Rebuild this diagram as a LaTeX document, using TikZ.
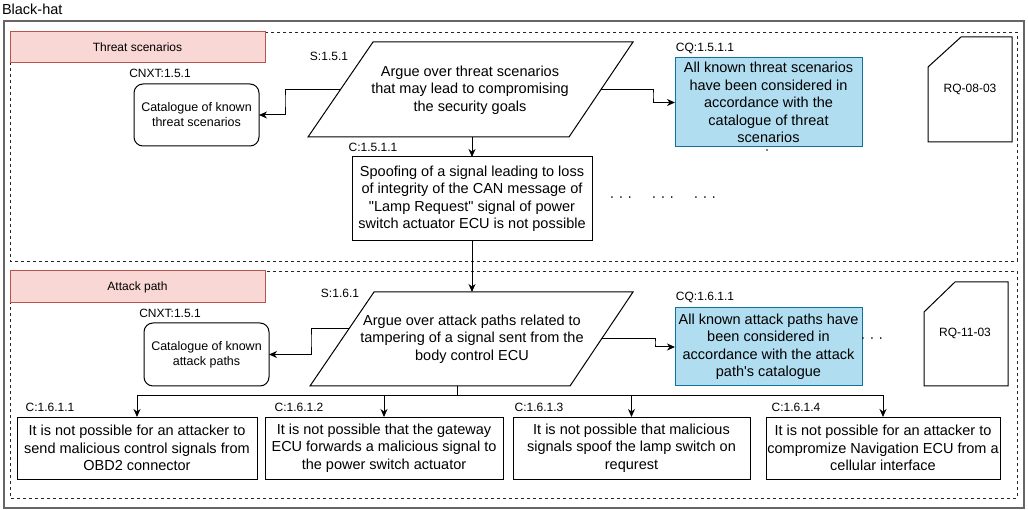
\documentclass[tikz,border=0pt]{standalone}
\usepackage{fontspec}
\setmainfont{Liberation Sans}[Ligatures=TeXOff]
\usetikzlibrary{arrows.meta,calc}
\definecolor{hdrfill}{HTML}{F8D7D5}
\definecolor{hdrdraw}{HTML}{B85450}
\definecolor{cqfill}{HTML}{B1DDF0}
\definecolor{cqdraw}{HTML}{10739E}
\newcommand{\mybig}{\fontsize{14.5}{17.5}\selectfont}
\newcommand{\mysmall}{\fontsize{12}{14}\selectfont}
\newcommand{\mycat}{\fontsize{12.5}{15}\selectfont}
\begin{document}
\begin{tikzpicture}[x=1pt,y=-1pt,
  line width=1pt,
  every node/.style={inner sep=0pt, outer sep=0pt},
  grp/.style={draw=black!85, dash pattern=on 3pt off 3pt, line width=0.9pt},
  hdr/.style={draw=hdrdraw, fill=hdrfill, font=\mysmall, minimum width=255pt},
  lbl/.style={font=\mysmall},
  box/.style={draw, align=center, font=\mybig},
  catbox/.style={draw, rounded corners=9pt, align=center, font=\mycat, minimum width=125pt},
  cqbox/.style={draw=cqdraw, fill=cqfill, align=center, font=\mybig, minimum width=187pt},
  txt/.style={align=center, font=\mybig},
  arr/.style={-{Stealth[length=8pt,width=7pt,inset=2.5pt]}},
  dotsty/.style={font=\mybig}
]
\useasboundingbox (0,0) rectangle (1028,510);
\fill[white] (0,0) rectangle (1028,510);

% outer frame
\node[font=\mybig, anchor=west] (title) at (2,9) {Black-hat};
\draw[draw=black!60, line width=1.3pt] (4,21) rectangle (1024,508);

% groups
\draw[grp] (10,32) rectangle (1017,261);
\draw[grp] (10,271) rectangle (1017,498);
\node[hdr, minimum height=31pt] (h1) at (137.5,47.5) {Threat scenarios};
\node[hdr, minimum height=32pt] (h2) at (137.5,287) {Attack path};

% ---------- Threat scenarios ----------
\node[lbl] (l1) at (160,73) {CNXT:1.5.1};
\node[catbox, minimum height=62pt] (cat1) at (196.5,115) {Catalogue of known\\threat scenarios};

\node[lbl] (l2) at (329,56) {S:1.5.1};
\coordinate (p1tl) at (373,42);
\coordinate (p1tr) at (633,42);
\coordinate (p1br) at (569,137);
\coordinate (p1bl) at (308,137);
\draw (p1tl) -- (p1tr) -- (p1br) -- (p1bl) -- cycle;
\node[txt] (s151) at (470,90) {Argue over threat scenarios\\that may lead to compromising\\the security goals};
\coordinate (p1w) at ($(p1tl)!0.5!(p1bl)$);
\coordinate (p1e) at ($(p1tr)!0.5!(p1br)$);

\node[lbl] (l3) at (705,48) {CQ:1.5.1.1};
\node[cqbox, minimum height=89pt] (cq1) at (768.5,102.5) {All known threat scenarios\\have been considered in\\accordance with the\\catalogue of threat\\scenarios};
\fill (767,150) circle (0.8);

\draw (928,67) -- (961,37) -- (1012,37) -- (1012,142) -- (928,142) -- cycle;
\node[lbl] (rq1) at (970,89) {RQ-08-03};

\node[lbl] (l4) at (373,147) {C:1.5.1.1};
\node[box, minimum width=240pt, minimum height=84pt] (spoof) at (472,199) {Spoofing of a signal leading to loss\\of integrity of the CAN message of\\"Lamp Request" signal of power\\switch actuator ECU is not possible};

\node[dotsty] (d1) at (621,199) {· · ·};
\node[dotsty] (d2) at (663,199) {· · ·};
\node[dotsty] (d3) at (705,199) {· · ·};

\coordinate (k1) at (285,100);
\coordinate (k3) at (653,95);
\draw[arr] (p1w) -| (k1) |- (cat1.east);
\draw[arr] (p1e) -| (k3) |- (cq1.west);
\draw[arr] (spoof.north |- p1bl) -- (spoof.north);

% ---------- Attack path ----------
\node[lbl] (l5) at (170,313) {CNXT:1.5.1};
\node[catbox, minimum height=63pt] (cat2) at (206.5,354.5) {Catalogue of known\\attack paths};

\node[lbl] (l6) at (340,293) {S:1.6.1};
\coordinate (p2tl) at (374,292);
\coordinate (p2tr) at (633,292);
\coordinate (p2br) at (570,386);
\coordinate (p2bl) at (310,386);
\draw (p2tl) -- (p2tr) -- (p2br) -- (p2bl) -- cycle;
\node[txt] (s161) at (472,339) {Argue over attack paths related to\\tampering of a signal sent from the\\body control ECU};
\coordinate (p2w) at ($(p2bl)!0.6064!(p2tl)$);
\coordinate (p2e) at ($(p2tr)!0.5!(p2br)$);

\node[lbl] (l7) at (705,297) {CQ:1.6.1.1};
\node[cqbox, minimum height=78pt] (cq2) at (768.5,347) {All known attack paths have\\been considered in\\accordance with the attack\\path's catalogue};
\node[dotsty] (d4) at (872,340) {· · ·};

\draw (924,312) -- (955,282) -- (1008,282) -- (1008,386) -- (924,386) -- cycle;
\node[lbl] (rq2) at (965,333) {RQ-11-03};

\coordinate (k2) at (311,340);
\coordinate (k4) at (655,343);
\draw[arr] (p2w) -| (k2) |- (cat2.east);
\draw[arr] (p2e) -| (k4) |- (cq2.west);
\draw[arr] (spoof.south) -- (spoof.south |- p2tl);

% bottom claims
\node[lbl] (l8) at (50,407) {C:1.6.1.1};
\node[lbl] (l9) at (299,407) {C:1.6.1.2};
\node[lbl] (l10) at (539,407) {C:1.6.1.3};
\node[lbl] (l11) at (796,407) {C:1.6.1.4};

\node[box, minimum width=240pt, minimum height=62pt] (b1) at (137,448) {It is not possible for an attacker to\\send malicious control signals from\\OBD2 connector};
\node[box, minimum width=238pt, minimum height=62pt] (b2) at (384,448) {It is not possible that the gateway\\ECU forwards a malicious signal to\\the power switch actuator};
\node[box, minimum width=237pt, minimum height=62pt] (b3) at (631.5,448) {It is not possible that malicious\\signals spoof the lamp switch on\\requrest};
\node[box, minimum width=234pt, minimum height=62pt] (b4) at (883,448) {It is not possible for an attacker to\\compromize Navigation ECU from a\\cellular interface};

\coordinate (p2b) at (457,386);
\coordinate (bus) at (457,396);
\draw (p2b) -- (bus);
\draw[arr] (bus) -| (b1.north);
\draw[arr] (bus) -| (b2.north);
\draw[arr] (bus) -| (b3.north);
\draw[arr] (bus) -| (b4.north);
\end{tikzpicture}
\end{document}
